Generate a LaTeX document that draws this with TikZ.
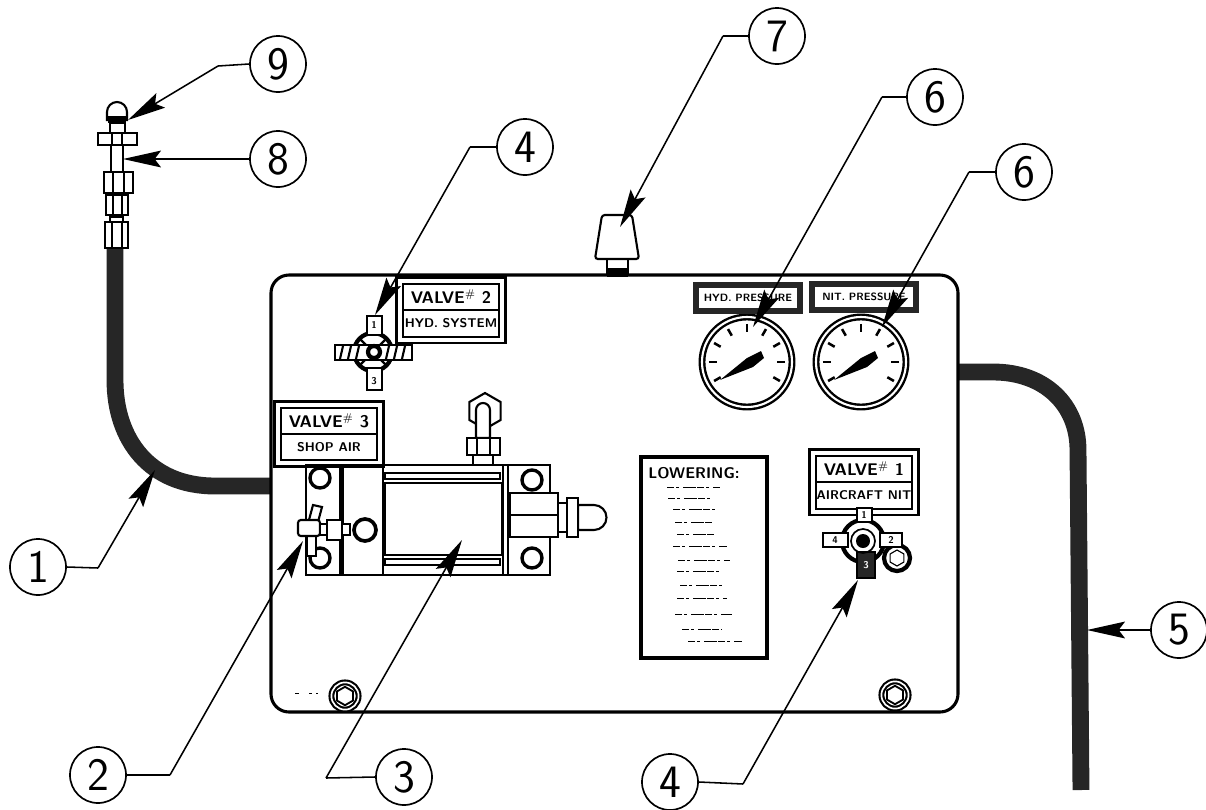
\documentclass[tikz,border=0pt]{standalone}
\usepackage{tikz}
\usetikzlibrary{arrows.meta,fit,shapes.geometric}

\tikzset{
    balloon/.style={circle, draw, line width=1.2pt, fill=white, minimum size=1.4cm, inner sep=0pt, font=\sffamily\fontsize{33}{36}\selectfont},
    leader/.style={line width=1.1pt, -{Stealth[length=0.95cm,width=0.42cm,inset=0.16cm]}},
    leaderarm/.style={line width=1.1pt},
    hose/.style={line width=12pt, draw=black!85},
    part/.style={draw, fill=white, line width=1.5pt},
    heavy/.style={draw, line width=3pt},
    plate/.style={rectangle, draw, line width=1.6pt, fill=white, minimum width=2.4cm, minimum height=0.66cm, inner sep=0pt, font=\sffamily\bfseries\fontsize{9}{10}\selectfont},
    valveline/.style={plate, font=\sffamily\bfseries\fontsize{12}{12}\selectfont},
    plateframe/.style={rectangle, draw, line width=1.8pt, inner sep=0.13cm},
    gaugeplate/.style={rectangle, draw=black!85, line width=4.5pt, fill=white, minimum width=2.6cm, minimum height=0.66cm, inner sep=0pt, font=\sffamily\bfseries\fontsize{7.5}{10}\selectfont},
    gauge/.style={circle, draw, line width=1.7pt, double, double distance=1.5pt, fill=white, minimum size=2.25cm, inner sep=0pt},
    bolt/.style={circle, draw, line width=1.5pt, double, double distance=1.2pt, fill=white, minimum size=0.68cm, inner sep=0pt},
    hexhead/.style={regular polygon, regular polygon sides=6, shape border rotate=30, draw, line width=1.3pt, fill=white, minimum size=0.46cm, inner sep=0pt},
    portnum/.style={inner sep=0pt, font=\sffamily\bfseries\fontsize{7}{7}\selectfont},
    scribble/.style={line width=0.6pt, dash pattern=on 5pt off 1.5pt on 2pt off 3pt on 9pt off 1pt},
}

\begin{document}
\begin{tikzpicture}[x=0.025cm, y=-0.025cm]
    \useasboundingbox (0,0) rectangle (1206,810);

    % Hoses
    \draw[hose] (115,248) -- (115,380) .. controls (115,440) and (150,486) .. (215,486) -- (270,486);
    \draw[hose] (958,372) -- (993,372) .. controls (1045,372) and (1078,405) .. (1078,450) -- (1081,790);

    % Hose end fitting
    \draw[part] (107,120) -- (107,112) arc (180:360:10) -- (127,120) -- cycle;
    \fill (108,116) rectangle (126,123);
    \draw[part] (111,145) rectangle (123,172);
    \draw[part] (98,133) rectangle (137,145);
    \draw[part] (112,133) -- (112,145) (122,133) -- (122,145);
    \draw[part] (110,123) rectangle (125,133);
    \draw[part] (104,172) rectangle (133,193);
    \draw[part] (113,172) -- (113,193) (124,172) -- (124,193);
    \draw[part] (106,195) rectangle (128,215);
    \draw[part] (113,195) -- (113,215) (122,195) -- (122,215);
    \draw[part] (110,222) -- (110,217) -- (123,217) -- (123,222);
    \draw[part] (105,222) rectangle (128,248);
    \draw[line width=1.2pt] (112,222) -- (112,248) (122,222) -- (122,248);

    % Panel
    \draw[line width=2.2pt, fill=white, rounded corners=0.45cm] (271,275) rectangle (958,712);
    \draw[line width=0.7pt, dash pattern=on 3pt off 7pt on 2pt] (295,693) -- (318,693);

    % Top knob
    \draw[part] (607,259) rectangle (628,275);
    \fill (607,268) rectangle (628,277);
    \draw[part, rounded corners=2pt] (602,215) -- (632,215) -- (639,259) -- (595,259) -- cycle;

    % Bolts
    \node[bolt] (boltleft) at (345,696) {};
    \node[hexhead] (hexleft) at (345,696) {};
    \node[bolt] (boltright) at (895,695) {};
    \node[hexhead] (hexright) at (895,695) {};

    % Gauges
    \node[gauge] (gaugehyd) at (747,362) {};
    \node[gauge] (gaugenit) at (861,362) {};
    \foreach \g in {gaugehyd,gaugenit} {
        \foreach \a in {-30,0,...,210} {
            \draw[line width=1.8pt] ([shift={(\g)}]\a:0.95cm) -- ([shift={(\g)}]\a:0.76cm);
        }
        \fill[shift={(\g)}] (-27,18) -- (0,-4) -- (14,-11) -- (17,-4) -- (6,5) -- cycle;
    }
    \node[gaugeplate] (platehyd) at (748,298) {HYD. PRESSURE};
    \node[gaugeplate] (platenit) at (864,297) {NIT. PRESSURE};

    % Valve 2
    \node[valveline] (valvetwo) at (451,297) {VALVE$^{\#}$ 2};
    \node[plate] (systemtwo) at (451,323.5) {HYD. SYSTEM};
    \node[plateframe, fit=(valvetwo)(systemtwo)] (frametwo) {};
    \draw[heavy, fill=white] (373,352) circle (19);
    \draw[line width=1.6pt] (359,338) -- (387,366) (387,338) -- (359,366);
    \draw[part] (335,345) rectangle (412,360);
    \foreach \x in {343,351,359,389,397,405} {
        \draw[line width=1.5pt] (\x,346) -- (\x-3,359);
    }
    \draw[part] (367,316) rectangle (382,335);
    \draw[part] (367,368) rectangle (382,390);
    \draw[heavy, fill=white] (374,352) circle (6);
    \node[portnum] (porttwotop) at (374,325) {1};
    \node[portnum] (porttwobot) at (374,381) {3};

    % Valve 3
    \node[valveline] (valvethree) at (329,421) {VALVE$^{\#}$ 3};
    \node[plate] (systemthree) at (329,447) {SHOP AIR};
    \node[plateframe, fit=(valvethree)(systemthree)] (framethree) {};

    % Cylinder
    \draw[line width=2pt] (306,465) rectangle (550,575);
    \draw[line width=2pt] (383,465) -- (383,575);
    \draw[line width=2pt] (385,483) rectangle (502,555);
    \draw[line width=1.3pt] (385,473) rectangle (500,479);
    \draw[line width=1.3pt] (385,559) rectangle (500,565);
    \draw[line width=1.5pt] (503,465) -- (503,575) (508,465) -- (508,575);
    \fill (339,465) rectangle (344,575);

    % Cylinder top port
    \node[regular polygon, regular polygon sides=6, shape border rotate=30, draw, line width=1.5pt, minimum size=0.9cm, inner sep=0pt] (porthex) at (485,411) {};
    \draw[part] (476,438) -- (476,410) arc (180:360:7) -- (490,438) -- cycle;
    \draw[part] (473,455) rectangle (493,465);
    \draw[part] (467,438) rectangle (500,455);
    \draw[part] (477,438) -- (477,455) (490,438) -- (490,455);

    % Cylinder rod end
    \draw[part] (558,503) rectangle (567,532);
    \draw[part] (578,505) -- (594,505) arc (-90:90:12.5) -- (578,530) -- cycle;
    \draw[part] (567,498) rectangle (578,537);
    \foreach \x/\y in {320/478, 320/558, 532/480, 532/558} {
        \draw[line width=2.4pt, fill=white] (\x,\y) circle (10);
    }
    \draw[part] (510,493) rectangle (558,537);
    \draw[part] (510,515) -- (558,515);

    % Valve 3 fitting
    \draw[part] (307,535) rectangle (316,556);
    \draw[part] (309,520) -- (313,505) -- (322,507) -- (318,522) -- cycle;
    \draw[part, rounded corners=2pt] (298,520) rectangle (320,536);
    \draw[part] (320,524) rectangle (350,535);
    \draw[part] (327,520) rectangle (342,540);
    \draw[line width=2.6pt, fill=white] (365,530) circle (11);

    % Valve 1
    \node[valveline] (valveone) at (864,469) {VALVE$^{\#}$ 1};
    \node[plate] (systemone) at (864,495.5) {AIRCRAFT NIT};
    \node[plateframe, fit=(valveone)(systemone)] (frameone) {};
    \draw[heavy, fill=white] (863,541) circle (21);
    \draw[line width=3pt, fill=white] (897,558) circle (13);
    \node[hexhead, minimum size=0.4cm, line width=0.8pt] (hexone) at (897,558) {};
    \draw[part] (857,508) rectangle (872,522);
    \draw[part] (823,533) rectangle (848,547);
    \draw[part] (880,533) rectangle (902,547);
    \draw[part, fill=black!85] (857,552) rectangle (875,578);
    \draw[line width=1.2pt] (863,541) circle (12);
    \fill (863,541) circle (7);
    \node[portnum] (portonetop) at (864,515) {1};
    \node[portnum] (portoneleft) at (835,540) {4};
    \node[portnum] (portoneright) at (891,540) {2};
    \node[portnum, text=white] (portonebot) at (866,565) {3};

    % Lowering plate
    \draw[line width=2.2pt] (641,457) rectangle (767,658);
    \node[inner sep=0pt, font=\sffamily\bfseries\fontsize{11}{12}\selectfont] (platehead) at (694,473) {LOWERING:};
    \foreach \y/\xa/\xb in {487/667/720, 498/668/712, 509/673/717, 522/675/712, 534/677/715, 546/673/727,
        560/678/730, 571/677/722, 585/680/725, 598/677/727, 614/675/732, 629/682/722, 641/688/742} {
        \draw[scribble] (\xa,\y) -- (\xb,\y);
    }

    % Balloons
    \node[balloon] (balloonone) at (38,567) {1};
    \node[balloon] (balloontwo) at (98,775) {2};
    \node[balloon] (balloonthree) at (404,777) {3};
    \node[balloon] (balloonfour) at (525,147) {4};
    \node[balloon] (balloonfourb) at (670,782) {4};
    \node[balloon] (balloonfive) at (1179,630) {5};
    \node[balloon] (balloonsix) at (935,97) {6};
    \node[balloon] (balloonsixb) at (1024,172) {6};
    \node[balloon] (balloonseven) at (777,36) {7};
    \node[balloon] (ballooneight) at (278,159) {8};
    \node[balloon] (balloonnine) at (278,64) {9};

    % Leader bends and tips
    \coordinate (bendone) at (98,568);
    \coordinate (tipone) at (155,470);
    \coordinate (bendtwo) at (170,775);
    \coordinate (tiptwo) at (303,541);
    \coordinate (bendthree) at (326,778);
    \coordinate (tipthree) at (462,540);
    \coordinate (bendfour) at (470,147);
    \coordinate (tipfour) at (375,315);
    \coordinate (bendfourb) at (743,784);
    \coordinate (tipfourb) at (858,580);
    \coordinate (tipfive) at (1087,630);
    \coordinate (bendsix) at (882,97);
    \coordinate (tipsix) at (753,327);
    \coordinate (bendsixb) at (969,172);
    \coordinate (tipsixb) at (882,327);
    \coordinate (bendseven) at (723,36);
    \coordinate (tipseven) at (620,227);
    \coordinate (tipeight) at (123,159);
    \coordinate (bendnine) at (218,66);
    \coordinate (tipnine) at (128,120);

    % Leaders
    \draw[leaderarm] (balloonone.east) -- (bendone);
    \draw[leader] (bendone) -- (tipone);
    \draw[leaderarm] (balloontwo.east) -- (bendtwo);
    \draw[leader] (bendtwo) -- (tiptwo);
    \draw[leaderarm] (balloonthree.west) -- (bendthree);
    \draw[leader] (bendthree) -- (tipthree);
    \draw[leaderarm] (balloonfour.west) -- (bendfour);
    \draw[leader] (bendfour) -- (tipfour);
    \draw[leaderarm] (balloonfourb.east) -- (bendfourb);
    \draw[leader] (bendfourb) -- (tipfourb);
    \draw[leader] (balloonfive.west) -- (tipfive);
    \draw[leaderarm] (balloonsix.west) -- (bendsix);
    \draw[leader] (bendsix) -- (tipsix);
    \draw[leaderarm] (balloonsixb.west) -- (bendsixb);
    \draw[leader] (bendsixb) -- (tipsixb);
    \draw[leaderarm] (balloonseven.west) -- (bendseven);
    \draw[leader] (bendseven) -- (tipseven);
    \draw[leader] (ballooneight.west) -- (tipeight);
    \draw[leaderarm] (balloonnine.west) -- (bendnine);
    \draw[leader] (bendnine) -- (tipnine);
\end{tikzpicture}
\end{document}
